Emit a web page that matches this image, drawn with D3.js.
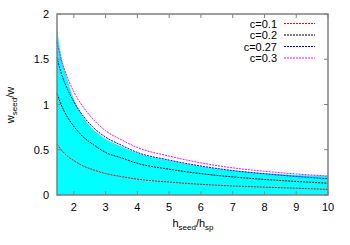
<body style="margin:0;background:#fff"></body>
<script src="https://cdn.jsdelivr.net/npm/d3@7"></script>
<script>
// values
var hRatio = [1.47, 1.6, 1.8, 2.0, 2.3, 2.6, 3.0, 3.5, 4.0, 5.0, 6.0, 7.0, 8.0, 9.0, 10.0];
var c01  = [0.56, 0.50, 0.43, 0.38, 0.32, 0.28, 0.237, 0.203, 0.175, 0.143, 0.118, 0.10, 0.087, 0.075, 0.062];
var c02  = [1.12, 1.00, 0.86, 0.76, 0.64, 0.56, 0.47, 0.41, 0.35, 0.285, 0.236, 0.20, 0.172, 0.15, 0.13];
var c027 = [1.52, 1.35, 1.17, 1.03, 0.87, 0.75, 0.64, 0.55, 0.47, 0.386, 0.32, 0.27, 0.235, 0.205, 0.18];
var c03  = [1.69, 1.50, 1.30, 1.14, 0.97, 0.84, 0.71, 0.61, 0.525, 0.43, 0.355, 0.30, 0.262, 0.232, 0.21];
var fillTop = [1.84, 1.55, 1.28, 1.06, 0.86, 0.73, 0.62, 0.535, 0.46, 0.38, 0.315, 0.27, 0.24, 0.22, 0.21];
var seriesNames = ["c=0.1", "c=0.2", "c=0.27", "c=0.3"];
var seriesColors = ["#ff0000", "#000000", "#0000ff", "#ff00ff"];
var xTicks = [2, 3, 4, 5, 6, 7, 8, 9, 10];
var yTicks = [0, 0.5, 1, 1.5, 2];

var width = 350, height = 245;
var mLeft = 57, mRight = 328, mTop = 14, mBottom = 195;

var svg = d3.select("body").append("svg")
    .attr("width", width)
    .attr("height", height)
    .style("font-family", "'Liberation Sans', Arial, sans-serif");

var x = d3.scaleLinear().domain([1.47, 10]).range([mLeft, mRight]);
var y = d3.scaleLinear().domain([0, 2]).range([mBottom, mTop]);

// cyan band
var area = d3.area()
    .x(function (d, i) { return x(hRatio[i]); })
    .y0(y(0))
    .y1(function (d) { return y(d); })
    .curve(d3.curveMonotoneX);
svg.append("path")
    .attr("d", area(fillTop))
    .attr("fill", "#00ffff");

var line = d3.line()
    .x(function (d, i) { return x(hRatio[i]); })
    .y(function (d) { return y(d); })
    .curve(d3.curveMonotoneX);

var allSeries = [c01, c02, c027, c03];
allSeries.forEach(function (s, k) {
    svg.append("path")
        .attr("d", line(s))
        .attr("fill", "none")
        .attr("stroke", seriesColors[k])
        .attr("stroke-width", 1)
        .attr("stroke-dasharray", "2,1");
});

// border and ticks
var grey = "#808080";
svg.append("rect")
    .attr("x", mLeft).attr("y", mTop)
    .attr("width", mRight - mLeft).attr("height", mBottom - mTop)
    .attr("fill", "none").attr("stroke", grey).attr("stroke-width", 1.5);

xTicks.forEach(function (t) {
    svg.append("line").attr("x1", x(t)).attr("x2", x(t)).attr("y1", mBottom).attr("y2", mBottom - 4).attr("stroke", grey);
    svg.append("line").attr("x1", x(t)).attr("x2", x(t)).attr("y1", mTop).attr("y2", mTop + 4).attr("stroke", grey);
    svg.append("text").attr("x", x(t)).attr("y", 211)
        .attr("text-anchor", "middle").attr("font-size", 11).text(t);
});
yTicks.forEach(function (t) {
    svg.append("line").attr("x1", mLeft).attr("x2", mLeft + 4).attr("y1", y(t)).attr("y2", y(t)).attr("stroke", grey);
    svg.append("line").attr("x1", mRight).attr("x2", mRight - 4).attr("y1", y(t)).attr("y2", y(t)).attr("stroke", grey);
    svg.append("text").attr("x", 49).attr("y", y(t) + 4)
        .attr("text-anchor", "end").attr("font-size", 11).text(t);
});

// axis titles
var xt = svg.append("text").attr("x", 193).attr("y", 227)
    .attr("text-anchor", "middle").attr("font-size", 11);
xt.append("tspan").text("h");
xt.append("tspan").attr("font-size", 8).attr("dy", 3).text("seed");
xt.append("tspan").attr("dy", -3).text("/h");
xt.append("tspan").attr("font-size", 8).attr("dy", 3).text("sp");

var yt = svg.append("text")
    .attr("transform", "translate(14,105) rotate(-90)")
    .attr("text-anchor", "middle").attr("font-size", 11);
yt.append("tspan").text("w");
yt.append("tspan").attr("font-size", 8).attr("dy", 3).text("seed");
yt.append("tspan").attr("dy", -3).text("/w");

// legend
seriesNames.forEach(function (n, k) {
    var ly = 23.5 + k * 11.5;
    svg.append("text").attr("x", 277).attr("y", ly + 4)
        .attr("text-anchor", "end").attr("font-size", 11).text(n);
    svg.append("line").attr("x1", 284).attr("x2", 315).attr("y1", ly).attr("y2", ly)
        .attr("stroke", seriesColors[k]).attr("stroke-dasharray", "2,1");
});
</script>
